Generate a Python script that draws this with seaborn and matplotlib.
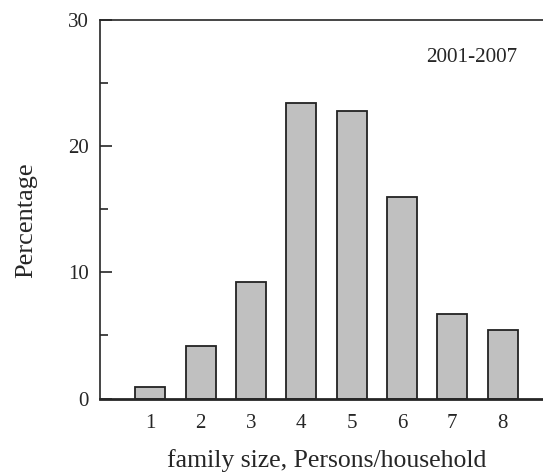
import pandas as pd
import matplotlib
matplotlib.use("Agg")
import matplotlib.pyplot as plt
from matplotlib.ticker import MultipleLocator
import seaborn as sns

# family size categories and share of households (%)
sizes = ["1", "2", "3", "4", "5", "6", "7", "8"]
percent = [0.95, 4.15, 9.2, 23.45, 22.8, 15.95, 6.7, 5.45]
period = "2001-2007"


def main():
    df = pd.DataFrame({"size": sizes, "pct": percent})

    sns.set_style("ticks")
    plt.rcParams["font.family"] = ["Liberation Serif", "DejaVu Serif"]

    fig = plt.figure(figsize=(5.43, 4.73), dpi=100)
    ax = fig.add_axes([0.184, 0.1575, 0.816, 0.8002])

    sns.barplot(data=df, x="size", y="pct", color="#c0c0c0", saturation=1,
                width=0.6, edgecolor="#222222", linewidth=1.3, ax=ax)

    ax.set_xlim(-1, 7.8)
    ax.set_ylim(0, 30)
    ax.yaxis.set_major_locator(MultipleLocator(10))
    ax.yaxis.set_minor_locator(MultipleLocator(5))
    ax.tick_params(axis="y", which="major", direction="in", length=8.8, width=1.2,
                   labelsize=15, pad=8)
    ax.tick_params(axis="y", which="minor", direction="in", length=6, width=1.2)
    ax.tick_params(axis="x", length=0, labelsize=15, pad=11)

    for s in ["left", "top"]:
        ax.spines[s].set_linewidth(1.2)
    ax.spines["bottom"].set_linewidth(2.0)
    ax.spines["right"].set_visible(False)

    ax.set_xlabel("family size, Persons/household", fontsize=18.5, labelpad=12)
    ax.set_ylabel("Percentage", fontsize=19, labelpad=22)
    ax.xaxis.label.set_x(0.512)
    ax.yaxis.label.set_y(0.472)
    ax.text(0.941, 0.902, period, transform=ax.transAxes, ha="right",
            va="center", fontsize=15.2)

    fig.savefig("out.png", dpi=100)


if __name__ == "__main__":
    main()
